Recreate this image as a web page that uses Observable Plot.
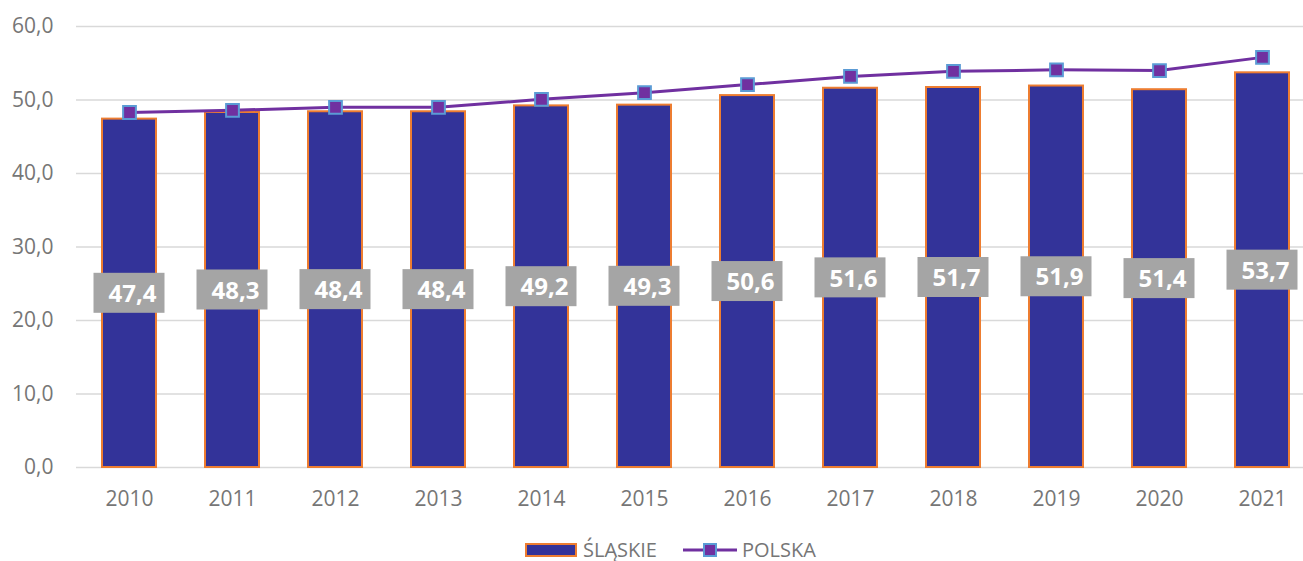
<!DOCTYPE html>
<html>
<head>
<meta charset="utf-8">
<script src="https://cdn.jsdelivr.net/npm/d3@7"></script>
<script src="https://cdn.jsdelivr.net/npm/@observablehq/plot@0.6"></script>
<style>
  html, body { margin: 0; padding: 0; background: #fff; overflow: hidden; }
  #chart svg { display: block; overflow: visible; }
  #legend { position: relative; height: 36px; font-family: "Open Sans", sans-serif; font-size: 20px; line-height: 20px; color: #767676; }
  #legend .item { position: absolute; display: flex; align-items: center; top: 15px; height: 20px; }
</style>
</head>
<body>
<div id="chart"></div>
<div id="legend"></div>
<script>
const years = ["2010","2011","2012","2013","2014","2015","2016","2017","2018","2019","2020","2021"];
const slaskie = [47.4, 48.3, 48.4, 48.4, 49.2, 49.3, 50.6, 51.6, 51.7, 51.9, 51.4, 53.7];
const polska = [48.3, 48.6, 49.0, 49.0, 50.1, 51.0, 52.1, 53.2, 53.9, 54.1, 54.0, 55.8];
const yTicks = [0, 10, 20, 30, 40, 50, 60];
const seriesNames = ["ŚLĄSKIE", "POLSKA"];

const barData = years.map((y, i) => ({year: y, value: slaskie[i]}));
const lineData = years.map((y, i) => ({year: y, value: polska[i]}));
const fmt = v => v.toFixed(1).replace(".", ",");

const font = '"Open Sans", sans-serif';
const chart = Plot.plot({
  width: 1303,
  height: 525,
  marginLeft: 76,
  marginRight: 0,
  marginTop: 26,
  marginBottom: 58,
  style: {fontFamily: font, background: "white"},
  x: {domain: years, range: [75, 1316], paddingInner: 0.48, paddingOuter: 0.24, label: null},
  y: {domain: [0, 60], label: null},
  marks: [
    Plot.gridY(yTicks, {stroke: "#d9d9d9", strokeOpacity: 1, strokeWidth: 1.5}),
    Plot.axisY(yTicks, {tickSize: 0, tickPadding: 23, tickFormat: fmt, fontSize: 21, fill: "#767676", label: null}),
    Plot.axisX({tickSize: 0, tickPadding: 24, fontSize: 21, fill: "#767676", label: null}),
    Plot.barY(barData, {x: "year", y: "value", fill: "#333399", stroke: "#ed7d31", strokeWidth: 2}),
    Plot.line(lineData, {x: "year", y: "value", stroke: "#7030a0", strokeWidth: 3}),
    Plot.dot(lineData, {x: "year", y: "value", symbol: "square", r: 7.2, fill: "#7030a0", stroke: "#5b9bd5", strokeWidth: 2}),
    Plot.rect(barData, {x: "year", y1: d => d.value / 2, y2: d => d.value / 2, fill: "#a5a5a5",
      insetLeft: -8.5, insetRight: -8.5, insetTop: -20, insetBottom: -20}),
    Plot.text(barData, {x: "year", y: d => d.value / 2, text: d => fmt(d.value), fill: "white",
      fontWeight: "bold", fontSize: 24, dx: 3, dy: 1})
  ]
});
document.getElementById("chart").appendChild(chart);

// Legend
const legend = document.getElementById("legend");
const item1 = document.createElement("div");
item1.className = "item";
item1.style.left = "525px";
item1.innerHTML = '<span style="display:inline-block;width:48px;height:10px;background:#333399;border:2px solid #ed7d31;"></span>'
  + '<span style="margin-left:6px;">' + seriesNames[0] + '</span>';
const item2 = document.createElement("div");
item2.className = "item";
item2.style.left = "683px";
item2.innerHTML = '<svg width="54" height="16"><line x1="0" y1="8" x2="54" y2="8" stroke="#7030a0" stroke-width="3"/>'
  + '<rect x="21" y="2" width="12" height="12" fill="#7030a0" stroke="#5b9bd5" stroke-width="2"/></svg>'
  + '<span style="margin-left:5px;">' + seriesNames[1] + '</span>';
legend.appendChild(item1);
legend.appendChild(item2);
</script>
</body>
</html>
